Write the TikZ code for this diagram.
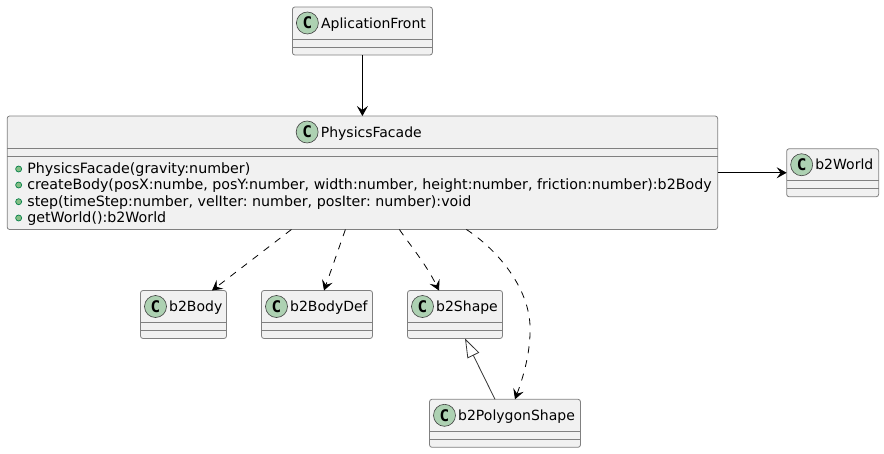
\documentclass[tikz,border=0pt]{standalone}
\usepackage{fontspec}
\setmainfont{DejaVu Sans}
\setmonofont{DejaVu Sans Mono}
\usepackage{tikz}
\usetikzlibrary{arrows.meta,positioning}
\definecolor{boxfill}{HTML}{F1F1F1}
\definecolor{boxline}{HTML}{808080}
\definecolor{spotfill}{HTML}{ADD1B2}
\definecolor{dotfill}{HTML}{84BE84}
\definecolor{dotline}{HTML}{038048}
\tikzset{
  classbox/.style={draw=boxline,fill=boxfill,line width=0.8pt,rounded corners=2.5pt,
    inner sep=0pt,outer sep=0pt,minimum height=#1},
  classbox/.default=48pt,
  spot/.style={circle,draw=black!75,fill=spotfill,line width=0.6pt,minimum size=22pt,
    inner sep=0pt,font=\ttfamily\bfseries\fontsize{16}{16}\selectfont},
  title/.style={anchor=base west,inner sep=0pt,font=\fontsize{14}{16}\selectfont},
  member/.style={anchor=base west,inner sep=0pt,font=\frenchspacing\fontsize{14.23}{16}\selectfont},
  dot/.style={circle,draw=dotline,fill=dotfill,line width=0.7pt,minimum size=6pt,inner sep=0pt},
  sepline/.style={draw=boxline,line width=0.8pt},
  dep/.style={->,dashed,dash pattern=on 7pt off 7pt,line width=0.8pt},
  assoc/.style={->,line width=0.8pt},
  inherit/.style={-{Triangle[open,length=19pt,width=13pt]},line width=0.8pt,black!80}
}
\begin{document}
\begin{tikzpicture}[x=1pt,y=-1pt]
  \tikzset{>={Stealth[length=10pt,width=11pt,inset=4pt]}}
  \useasboundingbox (0,0) rectangle (884,453);
  \node [classbox,minimum width=140pt] (aplicationFront) at (362.4,31) {};
  \node [classbox=113.5pt,minimum width=710.5pt,below=61pt of aplicationFront] (physicsFacade) {};
  \node [classbox,minimum width=92pt,right=69pt of physicsFacade] (b2World) {};
  \node [classbox,minimum width=86pt] (b2Body) at (183.5,314.5) {};
  \node [classbox,minimum width=111pt,right=35pt of b2Body] (b2BodyDef) {};
  \node [classbox,minimum width=95pt,right=35pt of b2BodyDef] (b2Shape) {};
  \node [classbox,minimum width=151pt] (b2PolygonShape) at (505,423.3) {};
  % header of each class
  \foreach \cname/\ctext/\cx in {aplicationFront/AplicationFront/15,physicsFacade/PhysicsFacade/300,
      b2World/b2World/15,b2Body/b2Body/15,b2BodyDef/b2BodyDef/15,b2Shape/b2Shape/15,
      b2PolygonShape/b2PolygonShape/15} {
    \node [spot] (\cname Spot) at ([xshift=\cx pt,yshift=-16pt]\cname.north west) {C};
    \node [title] (\cname Title) at ([xshift=\cx pt+13.5pt,yshift=-21pt]\cname.north west) {\ctext};
    \draw [sepline] ([yshift=-32pt]\cname.north west) -- ([yshift=-32pt]\cname.north east);
    \draw [sepline] ([yshift=-40pt]\cname.north west) -- ([yshift=-40pt]\cname.north east);
  }
  % members
  \foreach \mname/\mtext/\my in {ctor/{PhysicsFacade(gravity:number)}/57.3,
      create/{createBody(posX:numbe, posY:number, width:number, height:number, friction:number):b2Body}/73.3,
      stepper/{step(timeStep:number, velIter: number, posIter: number):void}/90,
      world/{getWorld():b2World}/106.3} {
    \node [dot] (\mname Dot) at ([xshift=11.5pt,yshift=-\my pt+4.3pt]physicsFacade.north west) {};
    \node [member] (\mname) at ([xshift=20pt,yshift=-\my pt]physicsFacade.north west) {\mtext};
  }
  % connectors
  \draw [assoc] (aplicationFront) -- (physicsFacade);
  \draw [assoc] (physicsFacade) -- (b2World);
  \draw [dep] ([xshift=-71pt]physicsFacade.south) -- ([xshift=28.5pt]b2Body.north);
  \draw [dep] ([xshift=-17pt]physicsFacade.south) -- ([xshift=7pt]b2BodyDef.north);
  \draw [dep] ([xshift=37pt]physicsFacade.south) .. controls (410,245) and (426,264) .. ([xshift=-16pt]b2Shape.north);
  \draw [dep] ([xshift=104pt]physicsFacade.south) .. controls (495,248) and (528,285) .. (530,325)
    .. controls (531,350) and (524,375) .. ([xshift=10pt]b2PolygonShape.north);
  \draw [inherit] ([xshift=-10pt]b2PolygonShape.north) -- ([xshift=10pt]b2Shape.south);
\end{tikzpicture}
\end{document}
